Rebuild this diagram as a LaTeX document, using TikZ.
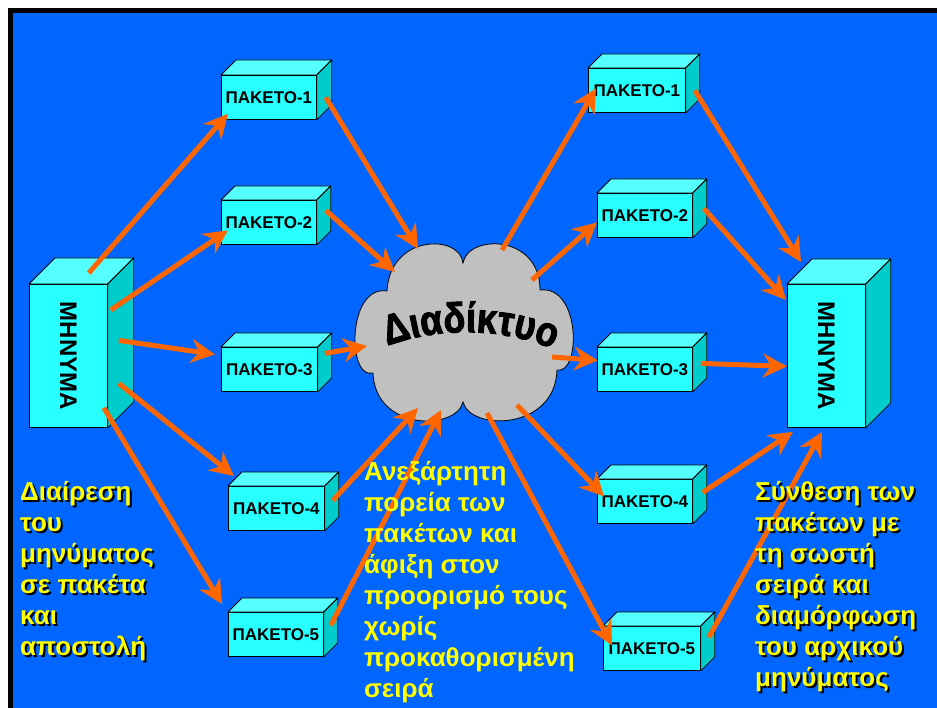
\documentclass[tikz,border=0pt]{standalone}
\usepackage{fontspec}
\usepackage{graphicx}
\setmainfont{Liberation Sans}
\newfontfamily\wordartfont[FakeBold=2.2,FakeStretch=0.86]{Liberation Sans}
\usetikzlibrary{arrows.meta,decorations.text}
\definecolor{bg}{RGB}{0,102,255}
\definecolor{cyanfront}{RGB}{40,255,255}
\definecolor{cyantop}{RGB}{85,255,255}
\definecolor{cyanside}{RGB}{0,204,204}
\definecolor{arrorange}{RGB}{255,102,0}
\definecolor{cloudgray}{RGB}{192,192,192}
\definecolor{txtyellow}{RGB}{255,255,0}
\tikzset{
  face/.style={draw=black, line width=0.8pt, line join=round},
  frontface/.style={face, fill=cyanfront, inner sep=0pt, anchor=north west,
    font=\fontsize{17}{17}\selectfont\bfseries},
  topface/.style={face, fill=cyantop},
  sideface/.style={face, fill=cyanside},
  arr/.style={draw=arrorange, line width=5pt,
    -{Stealth[length=24pt,width=24pt,inset=8pt]}},
  ytext/.style={text=txtyellow, font=\fontsize{26}{31}\selectfont\bfseries,
    align=left, anchor=north west, inner sep=0pt}
}
\newcommand{\cuboid}[7]{%
  \node[frontface, minimum width=#4pt, minimum height=#5pt] (#1) at (#2,#3) {#7};
  \draw[topface] (#1.north west) -- ++(#6,-#6) -- ([shift={(#6,-#6)}]#1.north east) -- (#1.north east) -- cycle;
  \draw[sideface] (#1.north east) -- ++(#6,-#6) -- ([shift={(#6,-#6)}]#1.south east) -- (#1.south east) -- cycle;
}
% one line of yellow text with a dark drop shadow
\newcommand{\sline}[1]{\rlap{\kern2pt\raisebox{-2pt}{\textcolor{black}{#1}}}#1}
\begin{document}
\begin{tikzpicture}[x=1pt,y=-1pt]
\useasboundingbox (0,0) rectangle (937,708);
\fill[white] (0,0) rectangle (937,708);
\fill[black] (8,8) rectangle (937,708);
\fill[bg] (12.5,13) rectangle (937,708);

% message boxes
\cuboid{lm}{29}{284}{78}{143}{26}{{\fontsize{24}{24}\selectfont\rotatebox{-90}{ΜΗΝΥΜΑ}}}
\cuboid{rm}{787}{284}{78}{143}{25}{{\fontsize{24}{24}\selectfont\rotatebox{-90}{ΜΗΝΥΜΑ}}}

% left packets
\cuboid{lp1}{221}{75}{95}{44}{15}{ΠΑΚΕΤΟ-1}
\cuboid{lp2}{221}{200}{95}{44}{14}{ΠΑΚΕΤΟ-2}
\cuboid{lp3}{221}{347}{96}{44}{14}{ΠΑΚΕΤΟ-3}
\cuboid{lp4}{228}{486}{96}{44}{14}{ΠΑΚΕΤΟ-4}
\cuboid{lp5}{228}{612}{95}{44}{14}{ΠΑΚΕΤΟ-5}
% right packets
\cuboid{rp1}{588}{68}{97}{44}{14}{ΠΑΚΕΤΟ-1}
\cuboid{rp2}{597}{193}{95}{44}{14}{ΠΑΚΕΤΟ-2}
\cuboid{rp3}{597}{347}{95}{44}{14}{ΠΑΚΕΤΟ-3}
\cuboid{rp4}{597}{479}{95}{44}{14}{ΠΑΚΕΤΟ-4}
\cuboid{rp5}{603}{626}{97}{44}{14}{ΠΑΚΕΤΟ-5}

% cloud
\draw[fill=cloudgray, draw=black, line width=0.8pt]
  (387,291) .. controls (390,234) and (460,234) .. (463,263)
  .. controls (468,234) and (540,234) .. (540,290)
  .. controls (581,285) and (581,375) .. (557,370)
  .. controls (555,431) and (470,431) .. (463,402)
  .. controls (456,431) and (375,431) .. (373,373)
  .. controls (347,380) and (347,285) .. (387,291) -- cycle;
\coordinate (cloud) at (464,332);
\path[decorate, decoration={text along path, text align=center,
  text={|\wordartfont\bfseries\fontsize{42}{42}\selectfont|Διαδίκτυο}}]
  (373,352) .. controls (430,325) and (510,325) .. (567,356);

% arrows: message -> packets
\draw[arr] ([shift={(-19,-11)}]lm.north east) -- ([shift={(7,-6)}]lp1.south west);
\draw[arr] ([shift={(3,26)}]lm.north east) -- ([shift={(7,8)}]lp2.west);
\draw[arr] ([shift={(11,-15.5)}]lm.east) -- ([shift={(-6,-15)}]lp3.west);
\draw[arr] ([shift={(11,27.5)}]lm.east) -- ([shift={(6,-10)}]lp4.north west);
\draw[arr] ([shift={(-4,-20)}]lm.south east) -- ([shift={(-6,-8)}]lp5.north west);
% packets -> cloud
\draw[arr] ([shift={(9,0)}]lp1.east) -- ([shift={(-46,-83)}]cloud);
\draw[arr] ([shift={(9,-12)}]lp2.east) -- ([shift={(-69,-60)}]cloud);
\draw[arr] ([shift={(7,-16)}]lp3.east) -- ([shift={(-97,14)}]cloud);
\draw[arr] ([shift={(8,-8)}]lp4.east) -- ([shift={(-46,76)}]cloud);
\draw[arr] ([shift={(7,-9)}]lp5.east) -- ([shift={(-23,78)}]cloud);
% cloud -> packets
\draw[arr] ([shift={(38,-82)}]cloud) -- ([shift={(8,-2)}]rp1.west);
\draw[arr] ([shift={(68,-52)}]cloud) -- ([shift={(0,7)}]rp2.west);
\draw[arr] ([shift={(88,25)}]cloud) -- ([shift={(1,-9)}]rp3.west);
\draw[arr] ([shift={(53,73)}]cloud) -- ([shift={(7,-5)}]rp4.west);
\draw[arr] ([shift={(23,81)}]cloud) -- ([shift={(9,-3)}]rp5.west);
% packets -> message
\draw[arr] ([shift={(9,0)}]rp1.east) -- ([shift={(14,-22)}]rm.north west);
\draw[arr] ([shift={(11,-7)}]rp2.east) -- ([shift={(-1,16)}]rm.north west);
\draw[arr] ([shift={(8,-6)}]rp3.east) -- ([shift={(0,10.5)}]rm.west);
\draw[arr] ([shift={(10,-9)}]rp4.east) -- ([shift={(6,4)}]rm.south west);
\draw[arr] ([shift={(8,-11)}]rp5.east) -- ([shift={(35,4)}]rm.south west);

% captions
\node[ytext] (tleft) at (20,481) {\sline{Διαίρεση}\\\sline{του}\\\sline{μηνύματος}\\\sline{σε πακέτα}\\\sline{και}\\\sline{αποστολή}};
\node[ytext] (tmid) at (364,461) {Ανεξάρτητη\\πορεία των\\πακέτων και\\άφιξη στον\\προορισμό τους\\χωρίς\\προκαθορισμένη\\σειρά};
\node[ytext] (tright) at (755,481) {\sline{Σύνθεση των}\\\sline{πακέτων με}\\\sline{τη σωστή}\\\sline{σειρά και}\\\sline{διαμόρφωση}\\\sline{του αρχικού}\\\sline{μηνύματος}};
\end{tikzpicture}
\end{document}
